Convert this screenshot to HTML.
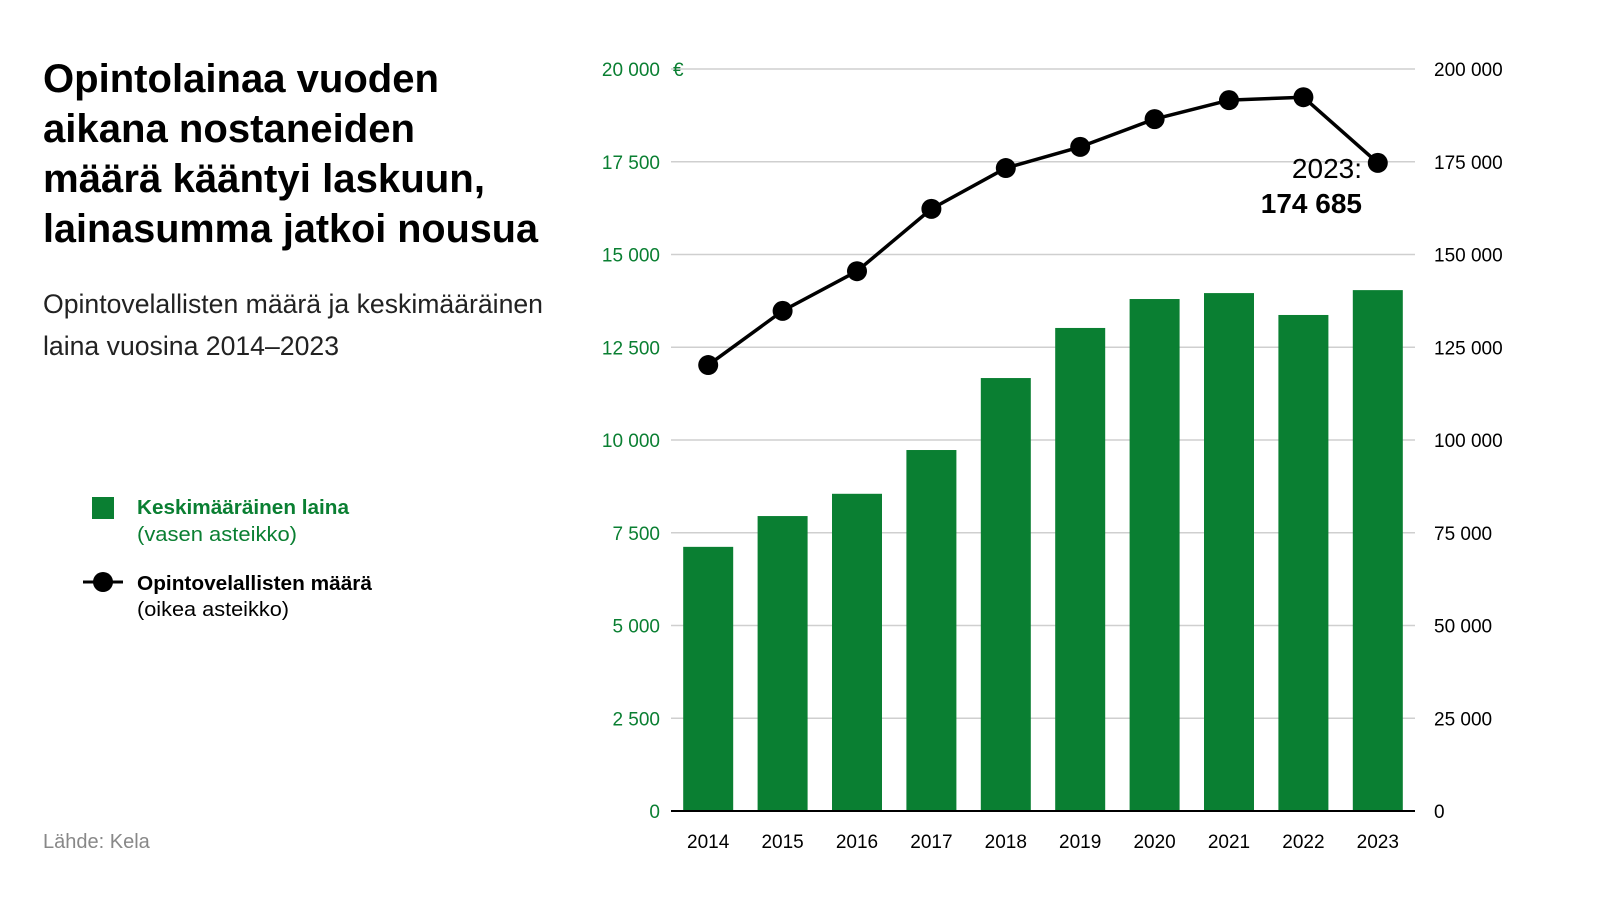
<!DOCTYPE html>
<html><head><meta charset="utf-8"><style>
html,body{margin:0;padding:0;background:#fff}
svg{display:block;font-family:"Liberation Sans",sans-serif}
</style></head><body>
<svg id="c" width="1601" height="901" viewBox="0 0 1601 901">
<g font-weight="bold" font-size="40" fill="#000">
<text x="43" y="92" textLength="396" lengthAdjust="spacingAndGlyphs">Opintolainaa vuoden</text>
<text x="43" y="142" textLength="372" lengthAdjust="spacingAndGlyphs">aikana nostaneiden</text>
<text x="43" y="192" textLength="442" lengthAdjust="spacingAndGlyphs">määrä kääntyi laskuun,</text>
<text x="43" y="242" textLength="495" lengthAdjust="spacingAndGlyphs">lainasumma jatkoi nousua</text>
</g>
<g font-size="27" fill="#222">
<text x="43" y="313" textLength="500" lengthAdjust="spacingAndGlyphs">Opintovelallisten määrä ja keskimääräinen</text>
<text x="43" y="355" textLength="296" lengthAdjust="spacingAndGlyphs">laina vuosina 2014–2023</text>
</g>
<g>
<rect x="92" y="497" width="22" height="22" fill="#0a7f32"/>
<text x="137" y="514" font-size="20" font-weight="bold" fill="#0a7f32" textLength="212" lengthAdjust="spacingAndGlyphs">Keskimääräinen laina</text>
<text x="137" y="541" font-size="20" fill="#0a7f32" textLength="160" lengthAdjust="spacingAndGlyphs">(vasen asteikko)</text>
<line x1="83" y1="582" x2="123" y2="582" stroke="#000" stroke-width="3"/>
<circle cx="103" cy="582" r="10" fill="#000"/>
<text x="137" y="590" font-size="20" font-weight="bold" fill="#000" textLength="235" lengthAdjust="spacingAndGlyphs">Opintovelallisten määrä</text>
<text x="137" y="616" font-size="20" fill="#000" textLength="152" lengthAdjust="spacingAndGlyphs">(oikea asteikko)</text>
</g>
<text x="43" y="848" font-size="20" fill="#888">Lähde: Kela</text>
<g id="plot"></g>
<g text-anchor="end" fill="#000">
<text x="1362" y="178" font-size="28">2023:</text>
<text x="1362" y="213" font-size="28" font-weight="bold">174 685</text>
</g>
</svg>
<script>
const years=["2014","2015","2016","2017","2018","2019","2020","2021","2022","2023"];
const avgLoan=[7120,7950,8550,9730,11670,13020,13800,13960,13370,14040];
const borrowers=[120200,134800,145500,162300,173300,179000,186500,191600,192400,174685];
const leftTicks=[0,2500,5000,7500,10000,12500,15000,17500,20000];
const rightTicks=[0,25000,50000,75000,100000,125000,150000,175000,200000];
const NS="http://www.w3.org/2000/svg";
const X0=671,X1=1415,Y0=811,Y1=69;
const step=(X1-X0)/years.length;
const xc=i=>X0+step*(i+0.5);
const yL=v=>Y0-(v/20000)*(Y0-Y1);
const yR=v=>Y0-(v/200000)*(Y0-Y1);
const fmt=v=>String(v).replace(/\B(?=(\d{3})+(?!\d))/g," ");
const plot=document.getElementById('plot');
function mk(t,a,txt){const e=document.createElementNS(NS,t);for(const k in a)e.setAttribute(k,a[k]);if(txt!=null)e.textContent=txt;plot.appendChild(e);return e;}
leftTicks.forEach((v,i)=>{
 if(v>0){const g=mk('line',{x1:X0,x2:X1,y1:yL(v),y2:yL(v),stroke:'#cfcfcf','stroke-width':1.5});
 
 }
 const t=mk('text',{x:660,y:yL(v)+7,'font-size':19,fill:'#0a7f32','text-anchor':'end'},fmt(v));
 
 
});
const eu=mk('text',{x:673,y:yL(20000)+7,'font-size':19,fill:'#0a7f32'},'€');


rightTicks.forEach(v=>{
 const t=mk('text',{x:1434,y:yR(v)+7,'font-size':19,fill:'#000'},fmt(v));
 
 
});
avgLoan.forEach((v,i)=>{
 const b=mk('rect',{x:xc(i)-25,y:yL(v),width:50,height:Y0-yL(v),fill:'#0a7f32'});
 
 
 const t=mk('text',{x:xc(i),y:848,'font-size':19,fill:'#000','text-anchor':'middle'},years[i]);
 
 
});
const ax=mk('line',{x1:X0,x2:X1,y1:Y0,y2:Y0,stroke:'#000','stroke-width':2});


const ln=mk('polyline',{points:borrowers.map((v,i)=>xc(i)+','+yR(v)).join(' '),fill:'none',stroke:'#000','stroke-width':3.5,'stroke-linejoin':'round'});


borrowers.forEach((v,i)=>{
 const c=mk('circle',{cx:xc(i),cy:yR(v),r:10,fill:'#000'});
 
 
});
</script>
</body></html>
